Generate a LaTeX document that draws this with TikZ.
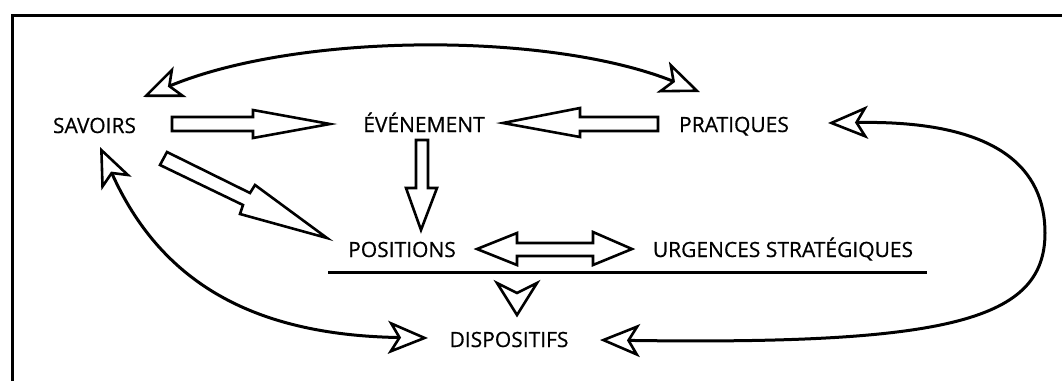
\documentclass[tikz,border=0pt]{standalone}
\usepackage{fontspec}
\setmainfont{Open Sans}
\newfontfamily\lblfont[FakeBold=0.6]{Open Sans}
\usetikzlibrary{arrows.meta}
\tikzset{hollowtip/.tip={Stealth[open, length=20pt, width=16.5pt, inset=5pt, line width=1.3pt]}}
\begin{document}
\begin{tikzpicture}[x=0.5pt,y=-0.5pt,
  lbl/.style={font=\lblfont\fontsize{10.5}{12}\selectfont, inner sep=0pt, anchor=base},
  frameline/.style={line width=1.5pt},
  curve/.style={line width=1.5pt},
  block/.style={draw, line width=1.3pt, line join=miter, fill=white},
  rule/.style={line width=1.5pt},
]
\useasboundingbox (0,0) rectangle (1062,381);

% frame
\draw[frameline] (12,381) -- (12,15) -- (1062,15);

% labels
\node[lbl] (sav) at (94.5,133) {SAVOIRS};
\node[lbl] (eve) at (424,132) {ÉVÉNEMENT};
\node[lbl] (pra) at (734,132) {PRATIQUES};
\node[lbl] (pos) at (402,257) {POSITIONS};
\node[lbl] (urg) at (783,257) {URGENCES STRATÉGIQUES};
\node[lbl] (dis) at (509,347) {DISPOSITIFS};

% arrow end points
\coordinate (savTop) at (143,97);
\coordinate (praTop) at (700,92);
\coordinate (savBot) at (100,147);
\coordinate (disL) at (428,338);
\coordinate (disR) at (600,340);
\coordinate (praR) at (828,123);
\coordinate (ruleL) at (328,272);
\coordinate (ruleR) at (927,272);

% curved double-headed connectors
\draw[curve, {hollowtip}-{hollowtip}] (savTop) .. controls (300,32) and (550,32) .. (praTop);
\draw[curve, {hollowtip}-{hollowtip}] (savBot) .. controls (160,280) and (250,335) .. (disL);
\draw[curve, {hollowtip}-{hollowtip}] (praR) .. controls (1000,120) and (1045,170) .. (1045,233)
   .. controls (1045,320) and (950,345) .. (disR);

% block arrows
\draw[block] (172,117) -- (253,117) -- (253,110) -- (330,124) -- (253,138) -- (253,131) -- (172,131) -- cycle;
\draw[block] (658,117) -- (580,117) -- (580,108) -- (503,123) -- (580,137) -- (580,131) -- (658,131) -- cycle;
\draw[block] (416,140) -- (428,140) -- (428,188) -- (437,188) -- (421,230) -- (406,188) -- (416,188) -- cycle;
\draw[block] (167,152) -- (250,193) -- (255,185) -- (327,238) -- (240,214) -- (243,205) -- (160,165) -- cycle;
\draw[block] (477,249) -- (517,233) -- (517,243) -- (593,243) -- (593,232) -- (632,249)
   -- (593,265) -- (593,256) -- (517,256) -- (517,265) -- cycle;

% rule under positions / urgences
\draw[rule] (ruleL) -- (ruleR);

% standalone hollow head towards DISPOSITIFS
\draw[line width=1.3pt, line join=miter] (497,283) -- (517,293) -- (537,283) -- (517,315) -- cycle;
\end{tikzpicture}
\end{document}
